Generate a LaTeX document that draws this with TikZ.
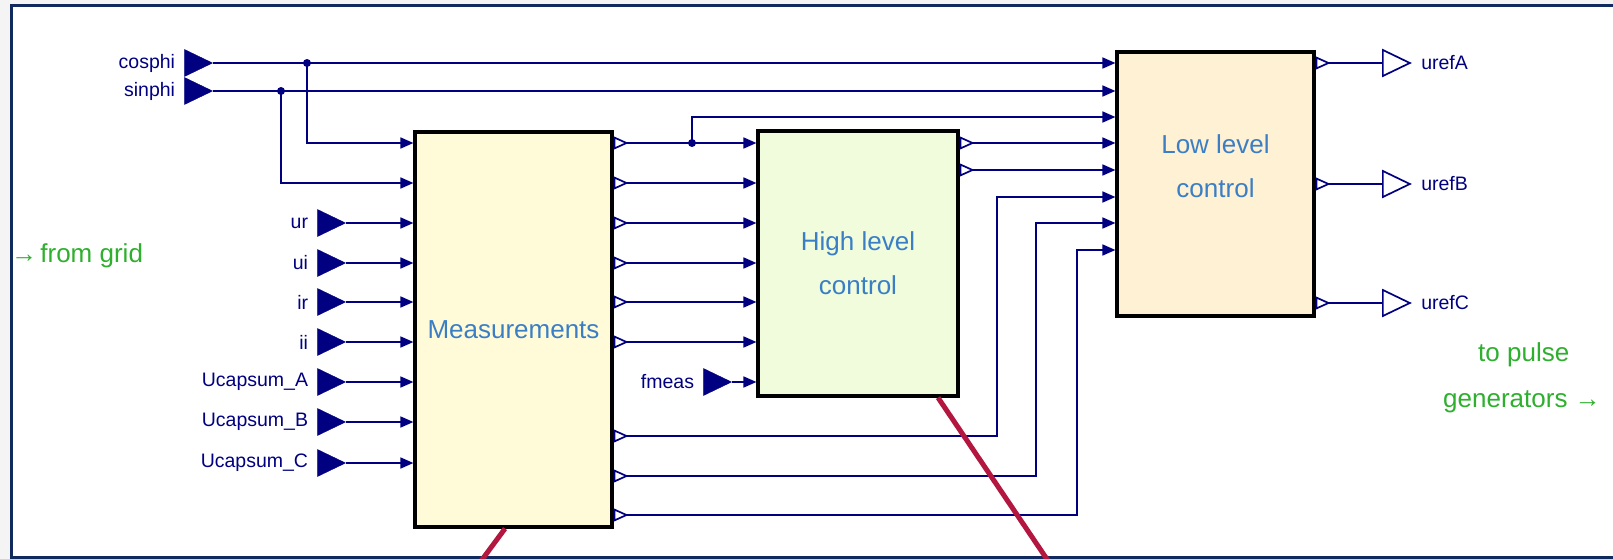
\documentclass[tikz,border=0pt]{standalone}
\usepackage{fontspec}
\setmainfont{Liberation Sans}
\usetikzlibrary{arrows.meta,positioning,shapes.geometric,calc}
\definecolor{WireNavy}{HTML}{000080}
\definecolor{FrameNavy}{HTML}{102A5E}
\definecolor{TitleBlue}{HTML}{3A7EC6}
\definecolor{NoteGreen}{HTML}{2EB02E}
\definecolor{MeasFill}{HTML}{FFFBD8}
\definecolor{HighFill}{HTML}{F0FCDB}
\definecolor{LowFill}{HTML}{FFF1D3}
\definecolor{CallRed}{HTML}{B3163F}
\definecolor{OuterGray}{HTML}{F4F4F4}

\begin{document}
\begin{tikzpicture}[x=1pt, y=-1pt, label distance=9pt,
  block/.style={draw=black, line width=3.2pt, inner sep=0pt, align=center,
    font=\fontsize{26}{44}\selectfont, text=TitleBlue},
  blocktitle/.style={inner sep=0pt, align=center, font=\fontsize{26}{44}\selectfont, text=TitleBlue},
  wire/.style={WireNavy, line width=1.7pt},
  inarr/.style={-{Triangle[length=13pt,width=11pt]}},
  outport/.style={{Triangle[open,reversed,length=15pt,width=13pt]}-},
  link/.style={{Triangle[open,reversed,length=15pt,width=13pt]}-{Triangle[length=13pt,width=11pt]}},
  interm/.style={isosceles triangle, isosceles triangle stretches, fill=WireNavy, draw=WireNavy,
    inner sep=0pt, minimum width=27pt, minimum height=28pt, anchor=apex},
  outterm/.style={isosceles triangle, isosceles triangle stretches, fill=white, draw=WireNavy,
    line width=1.7pt, inner sep=0pt, minimum width=26pt, minimum height=27pt, anchor=lower side},
  portlabel/.style={text=WireNavy, inner sep=0pt, font=\fontsize{19.5}{22}\selectfont},
  junction/.style={circle, fill=WireNavy, inner sep=0pt, minimum size=8pt},
  note/.style={text=NoteGreen, inner sep=0pt, anchor=west, font=\fontsize{26}{30}\selectfont}]
  \useasboundingbox (0,0) rectangle (1613,559);
  \clip (0,0) rectangle (1613,559);
  \fill[OuterGray] (0,0) rectangle (1613,559);
  \draw[FrameNavy, line width=3pt, fill=white] (11,6) rectangle (1640,557.5);

  % blocks
  \node[block, fill=MeasFill, minimum width=197pt, minimum height=395pt] (meas) at (513.5,329.5) {Measurements};
  \node[block, fill=HighFill, minimum width=200pt, minimum height=265pt] (high) at (858,263.5) {High level\\control};
  \node[block, fill=LowFill, minimum width=197pt, minimum height=264pt] (low) at (1215.5,184) {};
  \node[blocktitle] (lowtitle) at (1215.5,166) {Low level\\control};

  % grid angle inputs
  \node[interm, label={[portlabel]left:cosphi}] (cosphi) at (213,63) {};
  \node[interm, label={[portlabel]left:sinphi}] (sinphi) at (213,91) {};
  \draw[wire, inarr] (cosphi.apex) -- (cosphi.apex -| low.west);
  \draw[wire, inarr] (sinphi.apex) -- (sinphi.apex -| low.west);
  \node[junction] (jcos) at (307,63) {};
  \node[junction] (jsin) at (281,91) {};
  \draw[wire, inarr] (jcos.center) |- (meas.west |- 0,143);
  \draw[wire, inarr] (jsin.center) |- (meas.west |- 0,183);

  % measured quantities
  \foreach \y/\nm/\lab in {223/ur/ur, 263/ui/ui, 302/ir/ir, 342/ii/ii,
      382/ucA/Ucapsum\_A, 422/ucB/Ucapsum\_B, 463/ucC/Ucapsum\_C} {
    \node[interm, label={[portlabel]left:\lab}] (\nm) at (346,\y) {};
    \draw[wire, inarr] (\nm.apex) -- (\nm.apex -| meas.west);
  }

  % measurements to high level control
  \foreach \y in {143,183,223,263,302,342}
    \draw[wire, link] (meas.east |- 0,\y) -- (high.west |- 0,\y);
  \node[junction] (jmeas) at (692,143) {};
  \draw[wire, inarr] (jmeas.center) |- (low.west |- 0,117);
  \node[interm, label={[portlabel]left:fmeas}] (fmeas) at (732,382) {};
  \draw[wire, inarr] (fmeas.apex) -- (fmeas.apex -| high.west);

  % into low level control
  \foreach \y in {143,170}
    \draw[wire, link] (high.east |- 0,\y) -- (low.west |- 0,\y);
  \foreach \ya/\xv/\yb in {436/997/197, 476/1036/223, 515/1077/250}
    \draw[wire, link] (meas.east |- 0,\ya) -| (\xv,\yb) -- (low.west |- 0,\yb);

  % references out
  \foreach \y/\nm in {63/urefA, 184/urefB, 303/urefC} {
    \node[outterm, label={[portlabel]right:\nm}] (\nm) at (1382,\y) {};
    \draw[wire, outport] (low.east |- 0,\y) -- (\nm.lower side);
  }

  % callout lines
  \coordinate (redA) at (467,580);
  \coordinate (redB) at (1061,580);
  \draw[CallRed, line width=5pt] ([xshift=-8.5pt]meas.south) -- (redA);
  \draw[CallRed, line width=5pt] ([xshift=80pt]high.south) -- (redB);

  \node[note] (fromgrid) at (11,256) {→\kern-4pt{} from grid};
  \node[note] (topulse) at (1478,355) {to pulse};
  \node[note] (togen) at (1443,402) {generators →};
\end{tikzpicture}
\end{document}
